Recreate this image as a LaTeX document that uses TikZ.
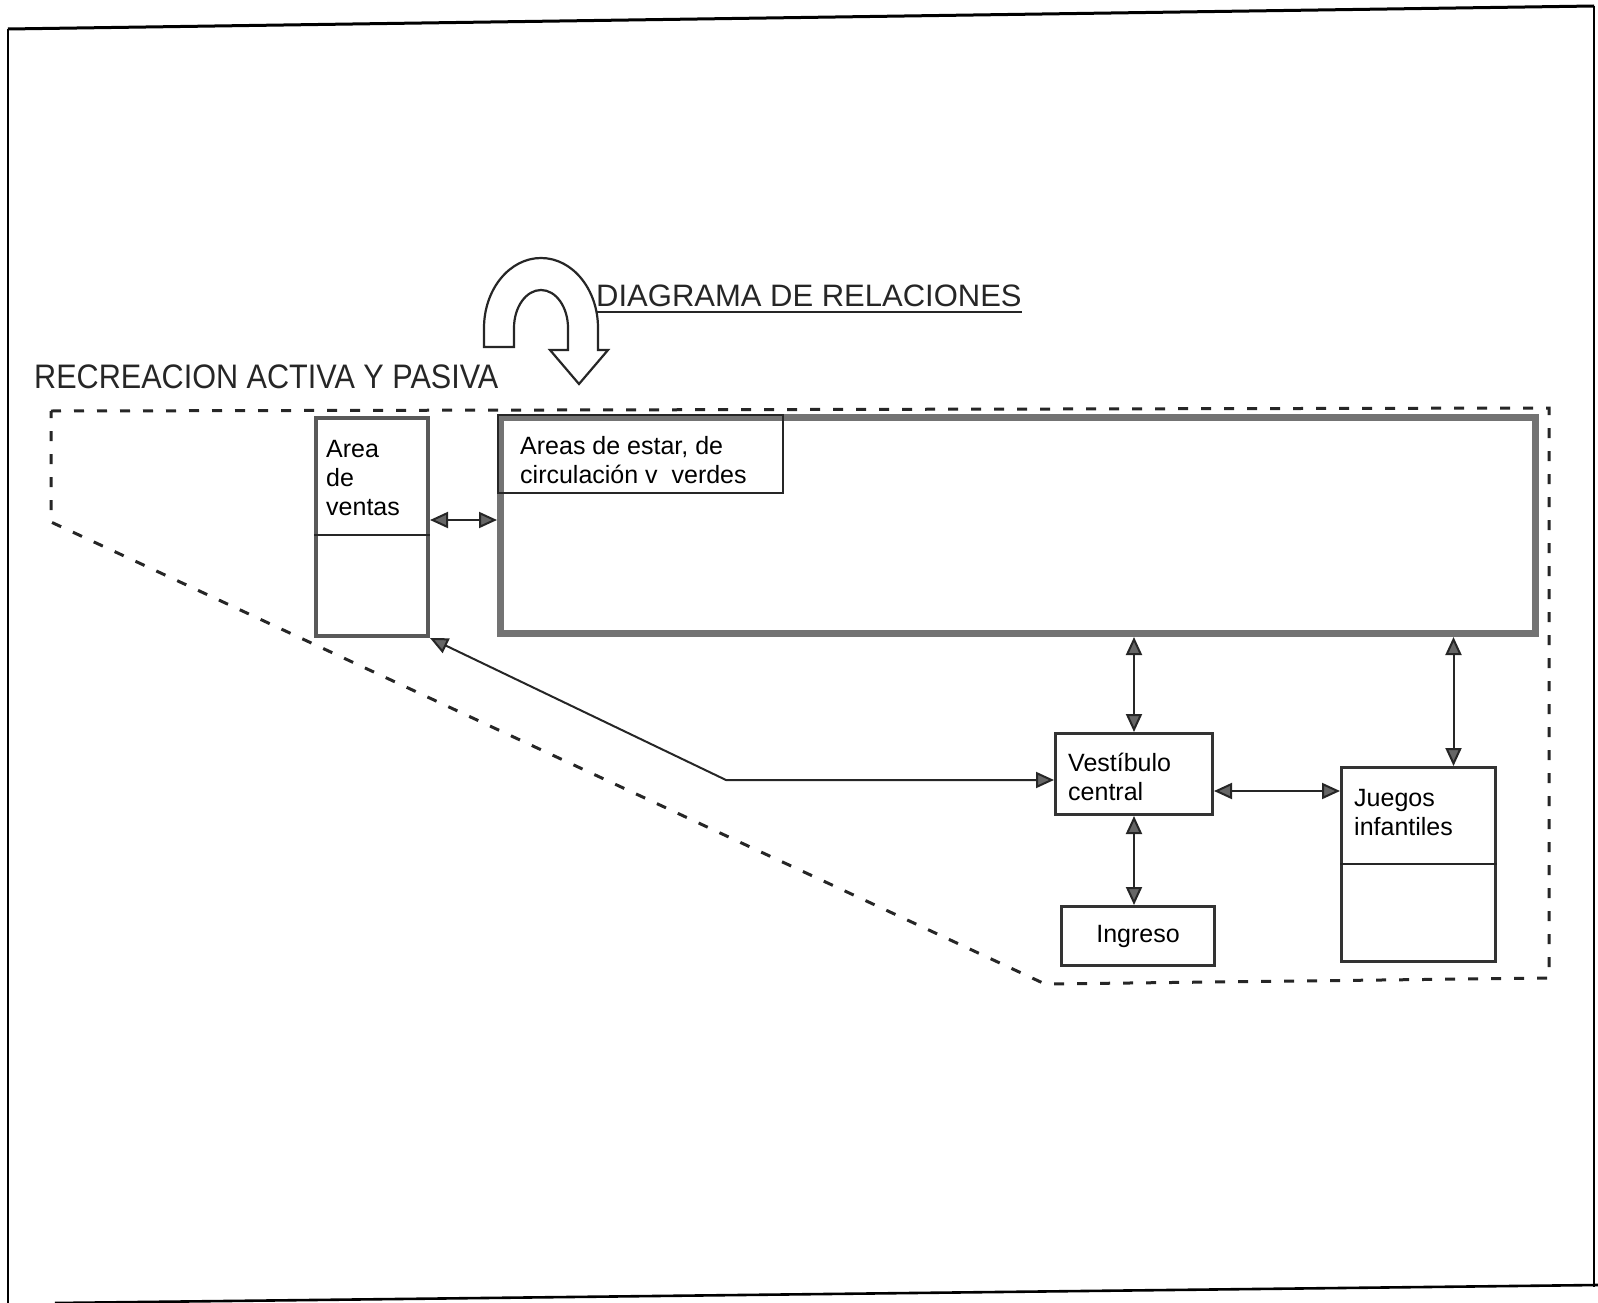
\documentclass[tikz,border=0pt]{standalone}
\usepackage{fontspec}
\setmainfont{Liberation Sans}
\usetikzlibrary{arrows.meta}
\begin{document}
\begin{tikzpicture}[x=1pt,y=-1pt,
  boxa/.style={draw=black!80, line width=3pt, minimum width=#1, inner sep=0pt},
  estarbox/.style={draw=black!55, line width=7pt, inner sep=0pt},
  txt/.style={font=\fontsize{25}{29}\selectfont, align=left, inner sep=0pt, anchor=north west, text=black},
  conn/.style={line width=2pt, draw=black!85, {Triangle[length=18pt,width=16pt,fill=black!60]}-{Triangle[length=18pt,width=16pt,fill=black!60]}},
  bound/.style={draw=black!85, line width=3pt, dash pattern=on 10pt off 13pt},
  frame/.style={draw=black, line width=1.6pt}
]
\useasboundingbox (0,0) rectangle (1598,1303);
% page frame (scanned, slightly skewed)
\draw[frame] (8,1303) -- (8,29);
\draw[frame, line width=3pt] (8,29) -- (1594,6);
\draw[frame] (1594,6) -- (1594,1287);
\draw[frame, line width=2.6pt] (55,1303) -- (1598,1285);

% title and U-turn arrow
\node[anchor=base west, inner sep=0pt, font=\fontsize{31}{36}\selectfont, text=black!85] (title) at (596,306) {DIAGRAMA DE RELACIONES};
\draw[line width=2pt, black!85] (title.base west) ++(-18,6) coordinate (ul) -- (ul -| title.east);
\draw[line width=2.2pt, black!85, fill=white]
  (484,347) -- (484,328) arc[start angle=180, end angle=360, x radius=57, y radius=70]
  -- (598,350) -- (608,350) -- (579,384) -- (550,350) -- (568,350) -- (568,328)
  arc[start angle=0, end angle=-180, x radius=27, y radius=38] -- (514,347) -- cycle;

\node[anchor=base west, inner sep=0pt, font=\fontsize{34}{40}\selectfont, text=black!85] (recre) at (34,388) {\scalebox{0.9}[1]{RECREACION ACTIVA Y PASIVA}};

% dashed boundary
\draw[bound] (51,411) -- (1549,408) -- (1549,978) -- (1045,984) -- (51,522) -- cycle;

% Area de ventas
\node[draw=black!65, line width=4pt, anchor=north west, minimum width=112pt, minimum height=218pt, inner sep=0pt] (ventas) at (314,416) {};
\draw[line width=2pt, black!85] (314,535) coordinate (vd1) -- (vd1 -| ventas.east);
\node[txt] (ventastxt) at (326,440) {Area\\de\\ventas};

% Areas de estar
\node[estarbox, anchor=north west, minimum width=1035pt, minimum height=216pt] (estar) at (497,414) {};
\node[draw=black!85, line width=2pt, anchor=north west, minimum width=285pt, minimum height=78pt, inner sep=0pt] (estarlab) at (497,414) {};
\node[txt] (estartxt) at (520,436) {Areas de estar, de\\circulación v\ \ verdes};

% Vestibulo central
\node[boxa=157pt, anchor=north west, minimum height=81pt] (vest) at (1054,732) {};
\node[txt] (vesttxt) at (1068,753) {Vestíbulo\\central};

% Ingreso
\node[boxa=153pt, anchor=north west, minimum height=59pt, font=\fontsize{25}{29}\selectfont, text=black] (ingreso) at (1060,905) {Ingreso};

% Juegos infantiles
\node[boxa=154pt, anchor=north west, minimum height=194pt] (juegos) at (1340,766) {};
\draw[line width=2pt, black!85] (1340,864) coordinate (jd1) -- (jd1 -| juegos.east);
\node[txt] (juegostxt) at (1354,789) {Juegos\\infantiles};

% connectors
\draw[conn] ([yshift=7pt]ventas.east) -- ([yshift=7pt]ventas.east -| estar.west);
\draw[conn] (vest.north) -- (vest.north |- estar.south);
\draw[conn] ([xshift=35pt]juegos.north) -- ([xshift=35pt]juegos.north |- estar.south);
\draw[conn] ([yshift=-17pt]vest.east) -- ([yshift=-17pt]vest.east -| juegos.west);
\draw[conn] (vest.south) -- (vest.south |- ingreso.north);
\coordinate (bend) at (726,780);
\draw[conn] (ventas.south east) -- (bend) -- (bend -| vest.west);
\end{tikzpicture}
\end{document}
